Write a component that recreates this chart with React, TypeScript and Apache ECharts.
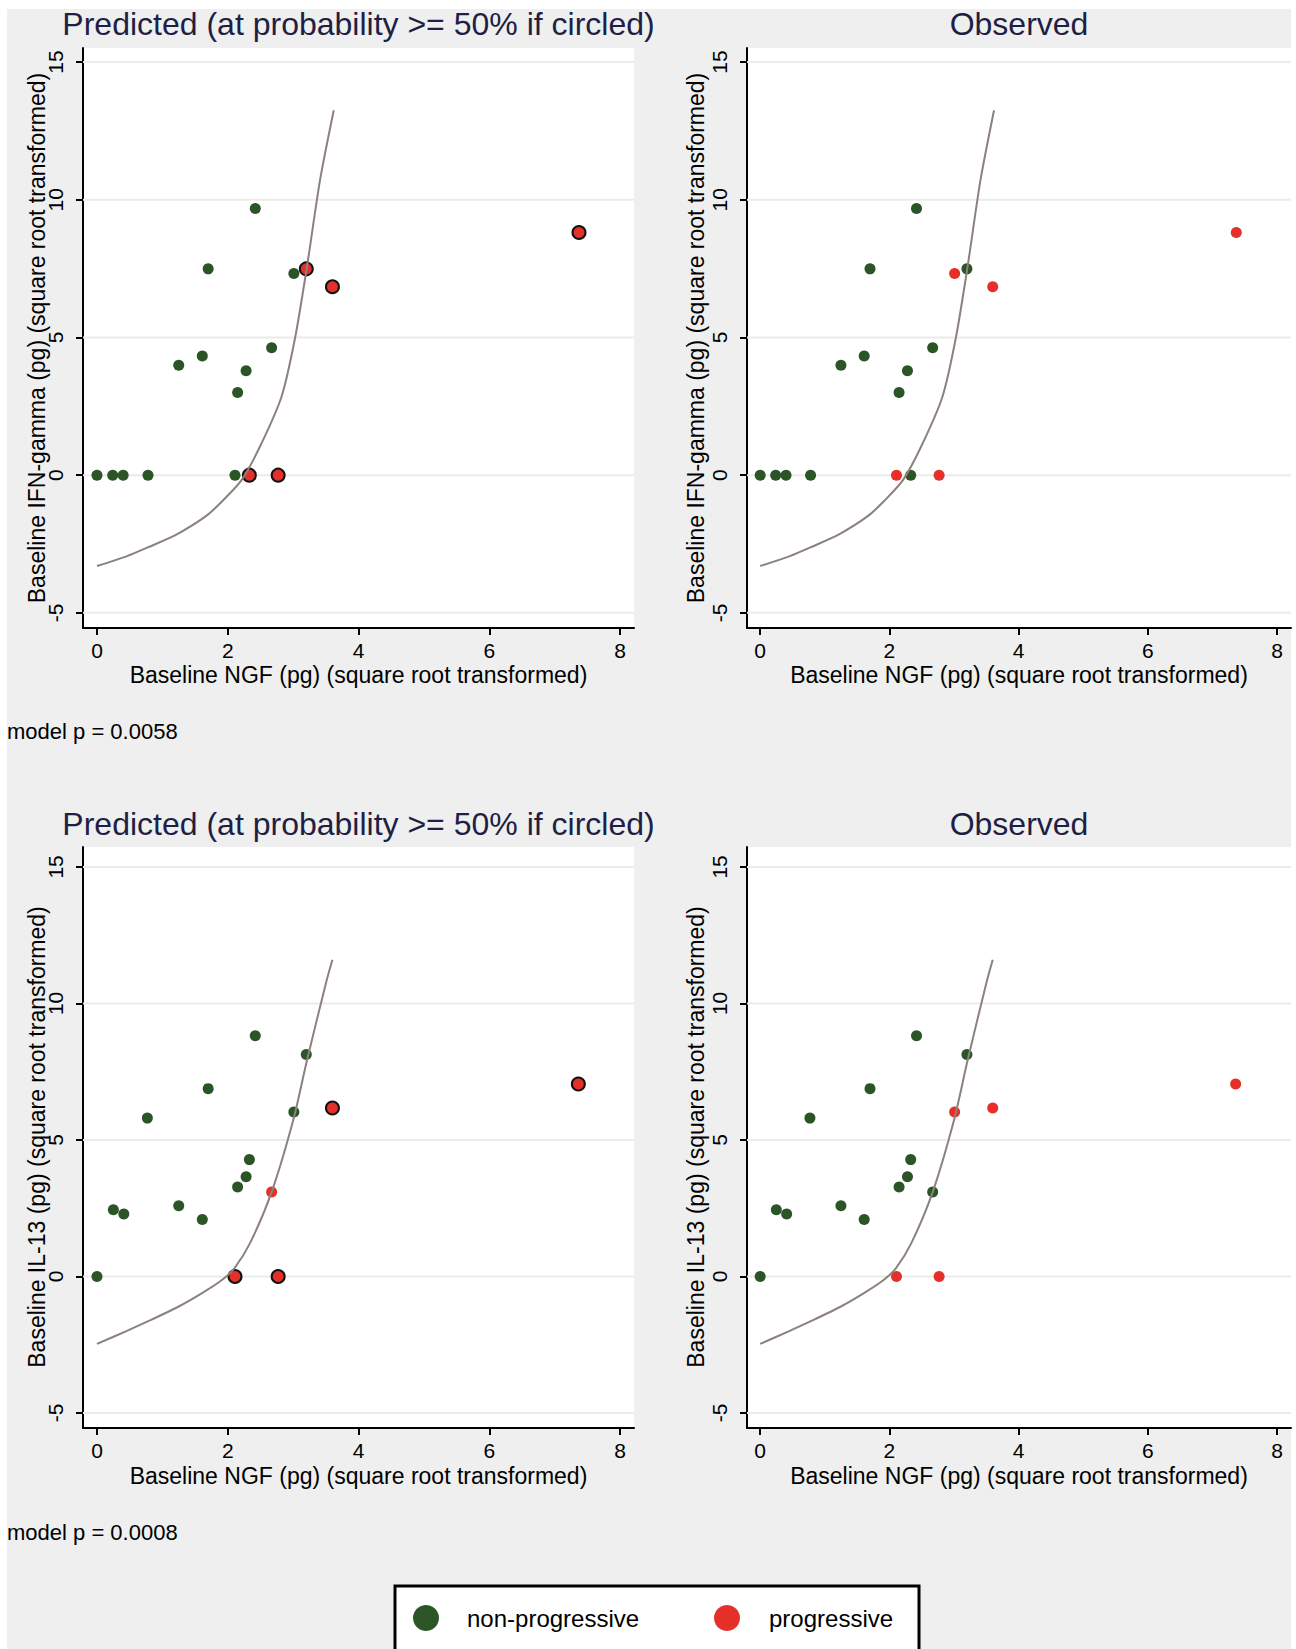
import React, { useEffect, useRef } from "react";
import * as echarts from "echarts";

// ---- tick values ----
const xTickValues = [0, 2, 4, 6, 8];
const yTickValues = [-5, 0, 5, 10, 15];

// ---- IFN-gamma vs NGF (top row) ----
const ifnPredNonProg = [
  [0, 0], [0.24, 0], [0.4, 0], [0.78, 0], [2.11, 0],
  [2.15, 3.0], [2.28, 3.79], [1.25, 3.99], [1.61, 4.33], [2.67, 4.63],
  [1.7, 7.49], [3.01, 7.32], [2.42, 9.68],
];
const ifnPredProgCircled = [[2.33, 0], [2.77, 0], [3.2, 7.49], [3.6, 6.84], [7.37, 8.81]];
const ifnPredProg: number[][] = [];
const ifnObsNonProg = [
  [0, 0], [0.24, 0], [0.4, 0], [0.78, 0], [2.33, 0],
  [2.15, 3.0], [2.28, 3.79], [1.25, 3.99], [1.61, 4.33], [2.67, 4.63],
  [1.7, 7.49], [3.2, 7.49], [2.42, 9.68],
];
const ifnObsProg = [[2.11, 0], [2.77, 0], [3.01, 7.32], [3.6, 6.84], [7.37, 8.81]];
const ifnCurve = [
  [0, -3.3], [0.45, -2.95], [0.8, -2.6], [1.22, -2.15], [1.67, -1.48], [1.93, -0.91],
  [2.21, -0.18], [2.49, 1.03], [2.82, 2.84], [3.03, 5.0], [3.21, 7.56], [3.41, 10.71], [3.62, 13.25],
];

// ---- IL-13 vs NGF (bottom row) ----
const il13PredNonProg = [
  [0, 0], [0.25, 2.44], [0.41, 2.29], [0.77, 5.8], [1.25, 2.59], [1.61, 2.09],
  [1.7, 6.88], [2.15, 3.28], [2.28, 3.65], [2.33, 4.28], [2.42, 8.82], [3.01, 6.02], [3.2, 8.13],
];
const il13PredProg = [[2.67, 3.09]];
const il13PredProgCircled = [[2.11, 0], [2.77, 0], [3.6, 6.17], [7.36, 7.05]];
const il13ObsNonProg = [
  [0, 0], [0.25, 2.44], [0.41, 2.29], [0.77, 5.8], [1.25, 2.59], [1.61, 2.09],
  [1.7, 6.88], [2.15, 3.28], [2.28, 3.65], [2.33, 4.28], [2.42, 8.82], [2.67, 3.09], [3.2, 8.13],
];
const il13ObsProg = [[2.11, 0], [2.77, 0], [3.01, 6.02], [3.6, 6.17], [7.36, 7.05]];
const il13Curve = [
  [0, -2.47], [0.45, -2.0], [0.8, -1.62], [1.25, -1.1], [1.6, -0.62], [1.9, -0.15], [2.1, 0.3],
  [2.34, 1.22], [2.67, 3.09], [3.0, 5.72], [3.21, 7.91], [3.51, 10.83], [3.6, 11.6],
];

// ---- texts ----
const predictedTitle = "Predicted (at probability >= 50% if circled)";
const observedTitle = "Observed";
const xAxisName = "Baseline NGF (pg) (square root transformed)";
const yNameTop = "Baseline IFN-gamma (pg) (square root transformed)";
const yNameBottom = "Baseline IL-13 (pg) (square root transformed)";
const modelPTop = "model p = 0.0058";
const modelPBottom = "model p = 0.0008";
const legendLabels = ["non-progressive", "progressive"];

const FONT = "'Liberation Sans', Arial, Helvetica, sans-serif";
const GREEN = "#2b5527";
const RED = "#e5302a";
const CURVE = "#8c817d";
const GRIDC = "#ebebea";
const TITLEC = "#1f1f45";

type PanelCfg = {
  box: number[];
  xr: number[];
  yr: number[];
  curve: number[][];
  green: number[][];
  red: number[][];
  redCircled: number[][];
};

function buildPanel(idx: number, c: PanelCfg) {
  const grid = {
    left: c.box[0], top: c.box[1], width: c.box[2], height: c.box[3],
    show: true, backgroundColor: "#ffffff", borderWidth: 0,
    containLabel: false, outerBoundsMode: "none",
  };
  const xAxis = {
    gridIndex: idx, type: "value", min: c.xr[0], max: c.xr[1],
    axisLine: { show: true, onZero: false, lineStyle: { color: "#000", width: 2 } },
    axisTick: { show: true, customValues: xTickValues, length: 7, lineStyle: { color: "#000", width: 2 } },
    axisLabel: { show: true, customValues: xTickValues, margin: 12, fontSize: 21, fontFamily: FONT, color: "#000" },
    splitLine: { show: false },
  };
  const yAxis = {
    gridIndex: idx, type: "value", min: c.yr[0], max: c.yr[1],
    axisLine: { show: true, onZero: false, lineStyle: { color: "#000", width: 2 } },
    axisTick: { show: true, customValues: yTickValues, length: 7, lineStyle: { color: "#000", width: 2 } },
    axisLabel: { show: true, customValues: yTickValues, rotate: 90, margin: 17, fontSize: 21, fontFamily: FONT, color: "#000" },
    splitLine: { show: false },
  };
  const series: any[] = [];
  yTickValues.forEach((v) => {
    series.push({
      type: "line", xAxisIndex: idx, yAxisIndex: idx, silent: true, z: 1,
      data: [[c.xr[0], v], [c.xr[1], v]], symbol: "none",
      lineStyle: { color: GRIDC, width: 2 },
    });
  });
  series.push({
    type: "scatter", name: "non-progressive", xAxisIndex: idx, yAxisIndex: idx, z: 3,
    data: c.green, symbolSize: 11, itemStyle: { color: GREEN, opacity: 1 }, silent: true,
  });
  series.push({
    type: "scatter", name: "progressive", xAxisIndex: idx, yAxisIndex: idx, z: 3,
    data: c.red, symbolSize: 11, itemStyle: { color: RED, opacity: 1 }, silent: true,
  });
  series.push({
    type: "scatter", name: "progressive (predicted)", xAxisIndex: idx, yAxisIndex: idx, z: 3,
    data: c.redCircled, symbolSize: 13,
    itemStyle: { color: RED, borderColor: "#111", borderWidth: 2, opacity: 1 }, silent: true,
  });
  series.push({
    type: "line", name: "boundary", xAxisIndex: idx, yAxisIndex: idx, z: 4,
    data: c.curve, symbol: "none", showSymbol: false, smooth: 0.25, silent: true,
    lineStyle: { color: CURVE, width: 2 },
  });
  return { grid, xAxis, yAxis, series };
}

function text(x: number, y: number, t: string, size: number, color: string, align = "center", rotation = 0) {
  return {
    type: "text", x, y, rotation, silent: true,
    style: { text: t, fill: color, fontSize: size, fontFamily: FONT, align, verticalAlign: "middle" },
  };
}

export default function App() {
  const ref = useRef<HTMLDivElement>(null);
  useEffect(() => {
    if (!ref.current) return;
    const chart = echarts.init(ref.current, undefined, { renderer: "svg" });
    const panels: PanelCfg[] = [
      { box: [83, 48, 551, 580], xr: [-0.214, 8.211], yr: [-5.55, 15.51], curve: ifnCurve, green: ifnPredNonProg, red: ifnPredProg, redCircled: ifnPredProgCircled },
      { box: [747, 48, 544, 580], xr: [-0.204, 8.217], yr: [-5.55, 15.51], curve: ifnCurve, green: ifnObsNonProg, red: ifnObsProg, redCircled: [] },
      { box: [83, 847, 551, 581], xr: [-0.214, 8.211], yr: [-5.55, 15.73], curve: il13Curve, green: il13PredNonProg, red: il13PredProg, redCircled: il13PredProgCircled },
      { box: [747, 847, 544, 581], xr: [-0.204, 8.217], yr: [-5.55, 15.73], curve: il13Curve, green: il13ObsNonProg, red: il13ObsProg, redCircled: [] },
    ];
    const built = panels.map((p, i) => buildPanel(i, p));
    const graphic: any[] = [
      text(358.5, 24, predictedTitle, 32, TITLEC),
      text(1019, 24, observedTitle, 32, TITLEC),
      text(358.5, 824, predictedTitle, 32, TITLEC),
      text(1019, 824, observedTitle, 32, TITLEC),
      text(358.5, 675, xAxisName, 23, "#000"),
      text(1019, 675, xAxisName, 23, "#000"),
      text(358.5, 1476, xAxisName, 23, "#000"),
      text(1019, 1476, xAxisName, 23, "#000"),
      text(37, 338, yNameTop, 23, "#000", "center", Math.PI / 2),
      text(696, 338, yNameTop, 23, "#000", "center", Math.PI / 2),
      text(37, 1137, yNameBottom, 23, "#000", "center", Math.PI / 2),
      text(696, 1137, yNameBottom, 23, "#000", "center", Math.PI / 2),
      text(7, 731, modelPTop, 22, "#000", "left"),
      text(7, 1532, modelPBottom, 22, "#000", "left"),
      {
        type: "rect", silent: true,
        shape: { x: 395, y: 1586, width: 524, height: 80 },
        style: { fill: "#ffffff", stroke: "#000", lineWidth: 3 },
      },
      { type: "circle", silent: true, shape: { cx: 426, cy: 1618, r: 13 }, style: { fill: GREEN } },
      text(467, 1618, legendLabels[0], 24, "#000", "left"),
      { type: "circle", silent: true, shape: { cx: 727, cy: 1618, r: 13 }, style: { fill: RED } },
      text(769, 1618, legendLabels[1], 24, "#000", "left"),
    ];
    chart.setOption({
      animation: false,
      backgroundColor: "transparent",
      textStyle: { fontFamily: FONT },
      grid: built.map((b) => b.grid),
      xAxis: built.map((b) => b.xAxis),
      yAxis: built.map((b) => b.yAxis),
      series: built.flatMap((b) => b.series),
      graphic,
    });
    return () => chart.dispose();
  }, []);
  return (
    <div style={{ position: "absolute", left: 0, top: 0, width: 1296, height: 1649, background: "#ffffff", overflow: "hidden" }}>
      <div style={{ position: "absolute", left: 7, top: 9, width: 1284, height: 1640, background: "#eeefee" }} />
      <div ref={ref} style={{ position: "absolute", left: 0, top: 0, width: 1296, height: 1649 }} />
    </div>
  );
}
